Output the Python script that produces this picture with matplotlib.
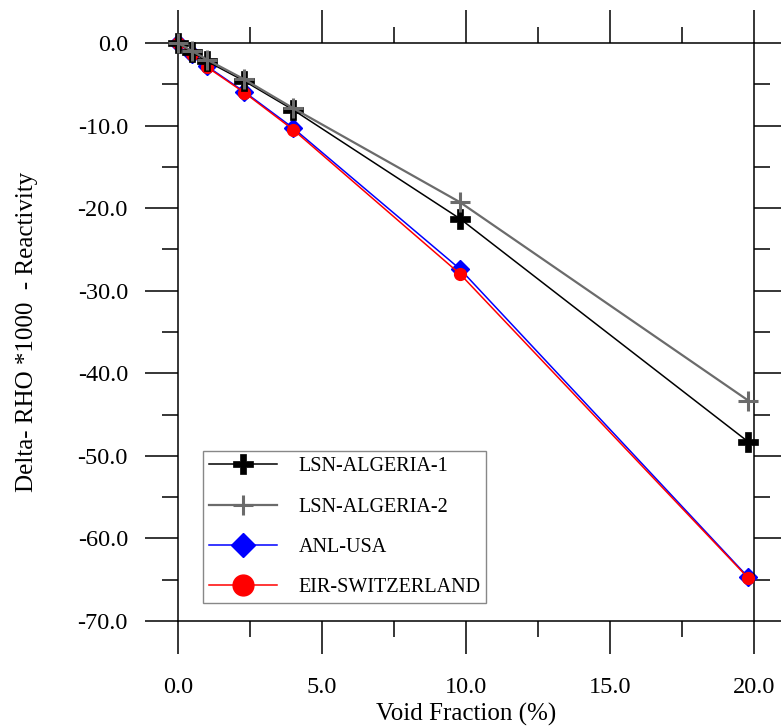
"""
Void reactivity benchmark: Delta-RHO*1000 versus void fraction.
"""

import matplotlib
matplotlib.use("Agg")
import matplotlib.pyplot as plt
from matplotlib.ticker import MultipleLocator, FormatStrFormatter


# ============================================================
# Data
# ============================================================

void_fraction = [0.0, 0.5, 1.0, 2.3, 4.0, 9.8, 19.8]

lsn_algeria_1 = [0.0, -1.1, -2.2, -4.6, -8.1, -21.3, -48.3]
lsn_algeria_2 = [0.0, -1.0, -2.0, -4.4, -7.9, -19.3, -43.3]
anl_usa = [0.0, -1.3, -2.8, -5.9, -10.3, -27.4, -64.7]
eir_switzerland = [0.0, -1.3, -2.9, -6.0, -10.5, -28.0, -64.8]

series_labels = ["LSN-ALGERIA-1", "LSN-ALGERIA-2", "ANL-USA", "EIR-SWITZERLAND"]


# ============================================================
# Style
# ============================================================

plt.rcParams.update({
    "font.family": ["Liberation Serif", "DejaVu Serif"],
    "font.size": 17.5,
    "axes.linewidth": 1.1,
    "figure.facecolor": "white",
    "axes.facecolor": "white",
})

GRAY = "#6b6b6b"


# ============================================================
# Plot
# ============================================================

fig = plt.figure(figsize=(7.81, 7.27), dpi=100)
ax = fig.add_axes([178 / 781, 1 - 621 / 727, 576 / 781, 578 / 727])

l1, = ax.plot(void_fraction, lsn_algeria_1, color="black", lw=1.1,
              marker="P", ms=14, mec="black", mew=0.5, zorder=4, clip_on=False)
l2, = ax.plot(void_fraction, lsn_algeria_2, color=GRAY, lw=1.6,
              marker="+", ms=15, mew=2.2, zorder=5, clip_on=False)
l3, = ax.plot(void_fraction, anl_usa, color="blue", lw=1.1,
              marker="D", ms=9, mec="blue", zorder=2, clip_on=False)
l4, = ax.plot(void_fraction, eir_switzerland, color="red", lw=1.1,
              marker="o", ms=8.5, mec="red", zorder=3, clip_on=False)

ax.set_xlim(0, 20)
ax.set_ylim(-70, 0)

ax.xaxis.set_major_locator(MultipleLocator(5))
ax.xaxis.set_minor_locator(MultipleLocator(2.5))
ax.yaxis.set_major_locator(MultipleLocator(10))
ax.yaxis.set_minor_locator(MultipleLocator(5))
ax.xaxis.set_major_formatter(FormatStrFormatter("%.1f"))
ax.yaxis.set_major_formatter(FormatStrFormatter("%.1f"))

ax.tick_params(which="both", direction="out", top=True, right=True,
               width=1.1, labelsize=17.5)
ax.tick_params(which="major", length=24)
ax.tick_params(which="minor", length=11.5)
ax.tick_params(axis="x", which="major", pad=16)
ax.tick_params(axis="y", which="major", pad=12)

ax.set_xlabel("Void Fraction (%)", fontsize=18)
ax.set_ylabel("Delta- RHO *1000  - Reactivity", fontsize=18)
ax.xaxis.set_label_coords(0.5, -0.142)
ax.yaxis.set_label_coords(-0.243, 0.5)

leg = ax.legend([l1, l2, l3, l4], series_labels,
                loc="lower left", bbox_to_anchor=(0.043, 0.031),
                borderaxespad=0, fontsize=14.5, frameon=True, fancybox=False,
                handlelength=3.4, handletextpad=1.05, labelspacing=1.05,
                borderpad=0.3, markerscale=1.0)
leg.get_frame().set_edgecolor(GRAY)
leg.get_frame().set_linewidth(1.0)

# larger markers in the legend, like the reference
legend_sizes = [15, 15, 12, 15]
for handle, size in zip(leg.legend_handles, legend_sizes):
    handle.set_markersize(size)

fig.savefig("out.png", dpi=100)
plt.close(fig)
